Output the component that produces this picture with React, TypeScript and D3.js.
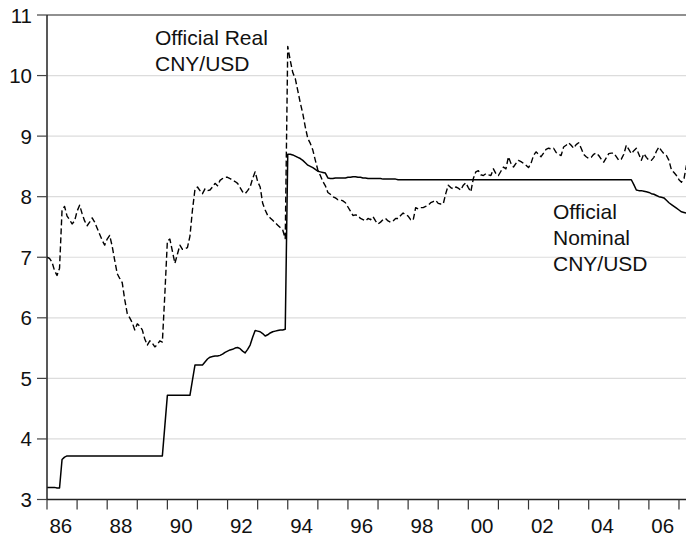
import React from "react";
import * as d3 from "d3";

// Monthly data, 1986:01 .. 2007:04
const startYear = 1986;
const realCNYUSD: number[] = [
  // 1986
  7.0, 6.98, 6.92, 6.78, 6.7, 6.82, 7.78, 7.84, 7.68, 7.62, 7.55, 7.6,
  // 1987
  7.76, 7.86, 7.72, 7.6, 7.52, 7.58, 7.65, 7.58, 7.48, 7.38, 7.28, 7.2,
  // 1988
  7.3, 7.36, 7.18, 6.95, 6.73, 6.65, 6.58, 6.3, 6.07, 6.0, 5.92, 5.8,
  // 1989
  5.9, 5.86, 5.8, 5.65, 5.55, 5.62, 5.58, 5.52, 5.56, 5.62, 5.6, 6.4,
  // 1990
  7.27, 7.3, 7.1, 6.9, 7.05, 7.2, 7.13, 7.14, 7.16, 7.35, 7.78, 8.12,
  // 1991
  8.16, 8.1, 8.05, 8.13, 8.1, 8.11, 8.16, 8.22, 8.18, 8.27, 8.3, 8.32,
  // 1992
  8.32, 8.3, 8.27, 8.25, 8.22, 8.15, 8.08, 8.05, 8.1, 8.16, 8.3, 8.41,
  // 1993
  8.25, 8.16, 7.89, 7.78, 7.69, 7.65, 7.61, 7.57, 7.53, 7.49, 7.45, 7.31,
  // 1994
  10.48, 10.25, 10.05, 9.95, 9.75, 9.55, 9.37, 9.15, 8.96, 8.88, 8.77, 8.6,
  // 1995
  8.44, 8.35, 8.25, 8.18, 8.07, 8.04, 8.0, 7.98, 7.95, 7.95, 7.93, 7.9,
  // 1996
  7.83, 7.76, 7.69, 7.7, 7.69, 7.64, 7.62, 7.6, 7.64, 7.62, 7.67, 7.6,
  // 1997
  7.55, 7.58, 7.62, 7.64, 7.6, 7.58, 7.6, 7.64, 7.64, 7.69, 7.73, 7.7,
  // 1998
  7.68, 7.62, 7.61, 7.82, 7.8, 7.82, 7.82, 7.84, 7.86, 7.9, 7.92, 7.94,
  // 1999
  7.89, 7.88, 7.88, 8.05, 8.19, 8.15, 8.13, 8.16, 8.14, 8.11, 8.19, 8.23,
  // 2000
  8.15, 8.08, 8.3, 8.41, 8.43, 8.36, 8.35, 8.38, 8.36, 8.35, 8.46, 8.38,
  // 2001
  8.35, 8.42, 8.49, 8.46, 8.66, 8.55, 8.49, 8.55, 8.6, 8.58, 8.55, 8.52,
  // 2002
  8.48, 8.55, 8.68, 8.74, 8.7, 8.66, 8.72, 8.78, 8.8, 8.79, 8.8, 8.73,
  // 2003
  8.7, 8.68, 8.82, 8.85, 8.89, 8.85, 8.8, 8.86, 8.89, 8.8, 8.7, 8.66,
  // 2004
  8.63, 8.65, 8.7, 8.72, 8.68, 8.62, 8.57, 8.64, 8.71, 8.72, 8.72, 8.66,
  // 2005
  8.6, 8.62, 8.7, 8.85, 8.78, 8.71, 8.76, 8.8, 8.7, 8.6, 8.71, 8.65,
  // 2006
  8.6, 8.6, 8.65, 8.75, 8.82, 8.76, 8.71, 8.68, 8.6, 8.44, 8.4, 8.35,
  // 2007
  8.28, 8.24, 8.3, 8.52,
];

const nominalCNYUSD: number[] = [
  // 1986
  3.2, 3.2, 3.2, 3.2, 3.19, 3.19, 3.66, 3.7, 3.72, 3.72, 3.72, 3.72,
  // 1987
  3.72, 3.72, 3.72, 3.72, 3.72, 3.72, 3.72, 3.72, 3.72, 3.72, 3.72, 3.72,
  // 1988
  3.72, 3.72, 3.72, 3.72, 3.72, 3.72, 3.72, 3.72, 3.72, 3.72, 3.72, 3.72,
  // 1989
  3.72, 3.72, 3.72, 3.72, 3.72, 3.72, 3.72, 3.72, 3.72, 3.72, 3.72, 4.22,
  // 1990
  4.72, 4.72, 4.72, 4.72, 4.72, 4.72, 4.72, 4.72, 4.72, 4.72, 4.97, 5.22,
  // 1991
  5.22, 5.22, 5.22, 5.27, 5.32, 5.35, 5.36, 5.37, 5.37, 5.38, 5.4, 5.43,
  // 1992
  5.45, 5.47, 5.48, 5.5, 5.51, 5.49, 5.45, 5.42, 5.48, 5.55, 5.68, 5.79,
  // 1993
  5.78, 5.77, 5.74, 5.7, 5.72, 5.75, 5.77, 5.78, 5.79, 5.8, 5.8, 5.81,
  // 1994
  8.7, 8.7, 8.69, 8.67, 8.65, 8.63, 8.6, 8.56, 8.52, 8.5, 8.48, 8.45,
  // 1995
  8.42, 8.41, 8.4, 8.39, 8.31, 8.3, 8.3, 8.31, 8.31, 8.31, 8.31, 8.31,
  // 1996
  8.32, 8.32, 8.33, 8.33, 8.32, 8.32, 8.31, 8.31, 8.3, 8.3, 8.3, 8.3,
  // 1997
  8.3, 8.3, 8.29, 8.29, 8.29, 8.29, 8.29, 8.29, 8.28, 8.28, 8.28, 8.28,
  // 1998
  8.28, 8.28, 8.28, 8.28, 8.28, 8.28, 8.28, 8.28, 8.28, 8.28, 8.28, 8.28,
  // 1999
  8.28, 8.28, 8.28, 8.28, 8.28, 8.28, 8.28, 8.28, 8.28, 8.28, 8.28, 8.28,
  // 2000
  8.28, 8.28, 8.28, 8.28, 8.28, 8.28, 8.28, 8.28, 8.28, 8.28, 8.28, 8.28,
  // 2001
  8.28, 8.28, 8.28, 8.28, 8.28, 8.28, 8.28, 8.28, 8.28, 8.28, 8.28, 8.28,
  // 2002
  8.28, 8.28, 8.28, 8.28, 8.28, 8.28, 8.28, 8.28, 8.28, 8.28, 8.28, 8.28,
  // 2003
  8.28, 8.28, 8.28, 8.28, 8.28, 8.28, 8.28, 8.28, 8.28, 8.28, 8.28, 8.28,
  // 2004
  8.28, 8.28, 8.28, 8.28, 8.28, 8.28, 8.28, 8.28, 8.28, 8.28, 8.28, 8.28,
  // 2005
  8.28, 8.28, 8.28, 8.28, 8.28, 8.28, 8.2, 8.11, 8.1, 8.1, 8.09, 8.08,
  // 2006
  8.07, 8.05, 8.04, 8.02, 8.0, 7.99, 7.98, 7.94, 7.9, 7.87, 7.84, 7.81,
  // 2007
  7.78, 7.75, 7.74, 7.73,
];

const yTicks: number[] = [3, 4, 5, 6, 7, 8, 9, 10, 11];
const xLabelYears: string[] = ["86", "88", "90", "92", "94", "96", "98", "00", "02", "04", "06"];
const annotationReal: string[] = ["Official Real", "CNY/USD"];
const annotationNominal: string[] = ["Official", "Nominal", "CNY/USD"];

const W = 686;
const H = 542;
const left = 47;
const right = 686.5;
const top = 15;
const bottom = 499.5;
const FONT = "'Liberation Sans', Arial, sans-serif";

export default function App() {
  const nMonths = realCNYUSD.length - 1;
  const x = d3.scaleLinear().domain([0, nMonths]).range([left, right]);
  const y = d3.scaleLinear().domain([3, 11]).range([bottom, top]);

  const line = d3
    .line<number>()
    .x((_, i) => x(i))
    .y((d) => y(d));

  const yearTicks = d3.range(0, nMonths + 1, 12);

  return (
    <svg
      width={W}
      height={H}
      style={{ position: "fixed", left: 0, top: 0, display: "block", background: "#fff" }}
      fontFamily={FONT}
    >
      <rect x={0} y={0} width={W} height={H} fill="#fff" />
      {/* gridlines */}
      {yTicks.slice(1, -1).map((t) => (
        <line key={"g" + t} x1={left} x2={right} y1={y(t)} y2={y(t)} stroke="#dcdcdc" strokeWidth={1.2} />
      ))}
      {/* series */}
      <path d={line(nominalCNYUSD) || ""} fill="none" stroke="#000" strokeWidth={1.5} strokeLinejoin="round" />
      <path
        d={line(realCNYUSD) || ""}
        fill="none"
        stroke="#000"
        strokeWidth={1.4}
        strokeDasharray="6,3"
        strokeLinejoin="round"
      />
      {/* frame */}
      <line x1={left} x2={right} y1={top} y2={top} stroke="#222" strokeWidth={1.2} />
      <line x1={left} x2={right} y1={bottom} y2={bottom} stroke="#222" strokeWidth={1.5} />
      <line x1={left} x2={left} y1={top} y2={bottom} stroke="#222" strokeWidth={1.5} />
      {/* y ticks */}
      {yTicks.map((t) => (
        <g key={"y" + t}>
          <line x1={left - 10} x2={left} y1={y(t)} y2={y(t)} stroke="#444" strokeWidth={1.2} />
          <text x={32} y={y(t) + 7.5} textAnchor="end" fontSize={20.5} fill="#111">
            {t}
          </text>
        </g>
      ))}
      {/* x ticks */}
      {yearTicks.map((m) => (
        <line key={"x" + m} x1={x(m)} x2={x(m)} y1={bottom} y2={bottom + 10} stroke="#333" strokeWidth={1.2} />
      ))}
      {xLabelYears.map((lab, k) => (
        <text key={"xl" + lab} x={x(k * 24 + 5.5)} y={533} textAnchor="middle" fontSize={20.5} fill="#111">
          {lab}
        </text>
      ))}
      {/* annotations */}
      {annotationReal.map((s, k) => (
        <text key={"ar" + k} x={155} y={45 + k * 26} fontSize={21} fill="#111">
          {s}
        </text>
      ))}
      {annotationNominal.map((s, k) => (
        <text key={"an" + k} x={553} y={219 + k * 26} fontSize={21} fill="#111">
          {s}
        </text>
      ))}
    </svg>
  );
}
